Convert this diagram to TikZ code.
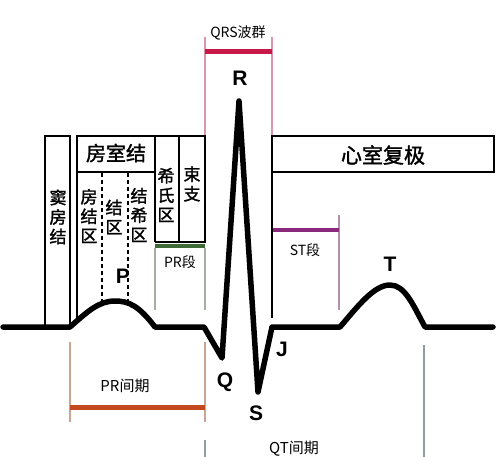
\documentclass[tikz,border=0pt]{standalone}
\usepackage{fontspec}
\newfontfamily\cjk{Noto Sans CJK SC}
\newfontfamily\cjkb{Noto Sans CJK SC}[FakeBold=1.6]
\newfontfamily\lat{Liberation Sans}
\definecolor{qrsred}{HTML}{C8184A}
\definecolor{qrspink}{HTML}{DC94A8}
\definecolor{prgreen}{HTML}{3E6B35}
\definecolor{prgray}{HTML}{A3B09E}
\definecolor{printorange}{HTML}{C4491E}
\definecolor{printline}{HTML}{C9A595}
\definecolor{stpurple}{HTML}{8B2A7D}
\definecolor{stline}{HTML}{B48FB2}
\definecolor{qtline}{HTML}{8E9CA6}
\tikzset{
  boxline/.style={line width=2.8pt, black},
  thinline/.style={line width=1.3pt},
  bar/.style={line width=5pt},
  ecg/.style={line width=5.5pt, line join=round, line cap=round},
  vtxt/.style={inner sep=0pt, align=center, font={\cjkb\fontsize{17}{19.5}\selectfont}},
  lbl/.style={inner sep=0pt, font={\cjk\fontsize{14}{16}\selectfont}},
  wave/.style={inner sep=0pt, font={\lat\bfseries\fontsize{21}{23}\selectfont}},
}
\begin{document}
\begin{tikzpicture}[x=1pt,y=-1pt]
\useasboundingbox (0,0) rectangle (500,457);
% --- coordinates of the trace
\coordinate (b0) at (3,327);
\coordinate (pS) at (70,327);
\coordinate (pTop) at (115,301);
\coordinate (pE) at (155,327);
\coordinate (qS) at (204,327);
\coordinate (Qp) at (222,358);
\coordinate (Rp) at (239,101);
\coordinate (Sp) at (258,392);
\coordinate (Jp) at (272,327);
\coordinate (tS) at (340,327);
\coordinate (tTop) at (390,285);
\coordinate (tE) at (425,327);
\coordinate (b1) at (493,327);

% --- thin guide lines
\draw[thinline, qrspink] (205,37) -- (205,136);
\draw[thinline, qrspink] (272,37) -- (272,136);
\draw[thinline, prgray] (155,248) -- (155,310);
\draw[thinline, prgray] (205,248) -- (205,310);
\draw[thinline, printline] (70,342) -- (70,422);
\draw[thinline, printline] (205,342) -- (205,422);
\draw[thinline, stline] (339,215) -- (339,310);
\draw[thinline, qtline] (205,440) -- (205,457);
\draw[thinline, qtline] (424,345) -- (424,457);

% --- bars
\draw[bar, qrsred] (205,52) -- (272,52);
\draw[bar, prgreen, line width=4pt] (155,246) -- (205,246);
\draw[bar, printorange] (70,407) -- (205,407);
\draw[bar, stpurple, line width=4pt] (272,230) -- (339,230);

% --- conduction boxes
\draw[boxline] (45,327) -- (45,136) -- (70,136) -- (70,327);
\draw[boxline] (77,318) -- (77,136) -- (205,136) -- (205,242) -- (155,242);
\draw[boxline] (77,172) -- (155,172);
\draw[boxline] (155,136) -- (155,242);
\draw[boxline] (179,136) -- (179,242);
\draw[boxline, dashed, line width=1.2pt, dash pattern=on 4pt off 3pt] (102,173) -- (102,304);
\draw[boxline, dashed, line width=1.2pt, dash pattern=on 4pt off 3pt] (128,173) -- (128,303);
\draw[boxline] (272,318) -- (272,136) -- (494,136) -- (494,172) -- (272,172);

% --- ECG trace
\draw[ecg] (b0) -- (pS)
  .. controls (88,311) and (99,301) .. (pTop)
  .. controls (129,301) and (139,306) .. (pE)
  -- (qS) -- (Qp) -- (Rp) -- (Sp) -- (Jp) -- (tS)
  .. controls (358,306) and (374,285) .. (tTop)
  .. controls (405,285) and (413,305) .. (tE) -- (b1);

% --- texts
\node[vtxt] (tdf) at (58,217) {窦\\房\\结};
\node[inner sep=0pt, font={\cjkb\fontsize{20}{22}\selectfont}] (tfsj) at (116,153) {房室结};
\node[vtxt] (tfjq) at (89,216) {房\\结\\区};
\node[vtxt] (tjq) at (114,217) {结\\区};
\node[vtxt] (tjxq) at (139,215) {结\\希\\区};
\node[vtxt] (txsq) at (166,195) {希\\氏\\区};
\node[vtxt] (tsz) at (192,184) {束\\支};
\node[inner sep=0pt, font={\cjkb\fontsize{21}{23}\selectfont}] (txsfj) at (383,155) {心室复极};
\node[lbl] (tqrs) at (238,33) {QRS波群};
\node[lbl] (tprd) at (180,262) {PR段};
\node[lbl] (tstd) at (305,250) {ST段};
\node[lbl, font={\cjk\fontsize{15}{17}\selectfont}] (tprj) at (125,386) {PR间期};
\node[lbl, font={\cjk\fontsize{15}{17}\selectfont}] (tqtj) at (294,449) {QT间期};
\node[wave] (lR) at (240,78) {R};
\node[wave] (lP) at (123,276) {P};
\node[wave] (lT) at (390,264) {T};
\node[wave] (lQ) at (225,382) {Q};
\node[wave] (lS) at (256,413) {S};
\node[wave] (lJ) at (282,349) {J};
\end{tikzpicture}
\end{document}
